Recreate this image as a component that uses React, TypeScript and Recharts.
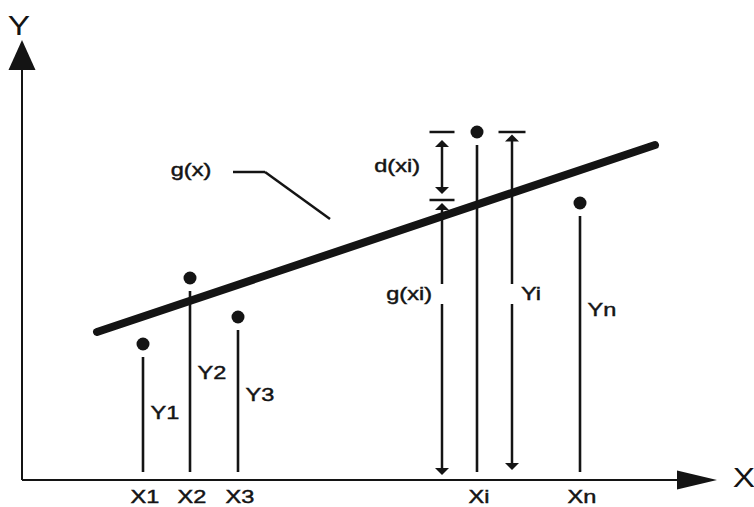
import { ComposedChart, XAxis, YAxis, Scatter, ReferenceLine, ReferenceDot } from "recharts";

// observations (X1, X2, X3, Xi, Xn) in plot units
const pointNames = ["1", "2", "3", "i", "n"];
const pointX = [12.1, 16.8, 21.6, 45.5, 55.8];
const pointY = [13.6, 20.2, 16.3, 34.8, 27.7];
// height of the Y1..Yn captions beside each stem (Yi is drawn on its own)
const stemLabelY = [6.7, 10.7, 8.5, null, 17.0];

// fitted line g(x), read at both ends
const fitX = [7.5, 63.3];
const fitY = [14.8, 33.5];
// value of g at Xi
const gAtXi = 28.0;

const W = 754;
const H = 507;
const INK = "#141414";
const FONT = "'Liberation Sans', Arial, Helvetica, sans-serif";

const X_DOMAIN: [number, number] = [-2.2, 73.2];
const Y_DOMAIN: [number, number] = [-2.7, 48.0];

// where the measurement arrows for d(xi), g(xi) and Yi stand
const MEAS_G_X = 42.0;
const MEAS_Y_X = 49.0;
const LABEL_MID = 18.6;
const LABEL_GAP = 1.0;

const points = pointX.map((x, i) => ({ x, y: pointY[i] }));

type Seg = { x1: number; y1: number; x2: number; y2: number };

function arrow(len: number, half: number, width: number, atStart: boolean, atEnd: boolean) {
  return (p: any) => {
    const { x1, y1, x2, y2 } = p as Seg;
    const L = Math.hypot(x2 - x1, y2 - y1) || 1;
    const ux = (x2 - x1) / L;
    const uy = (y2 - y1) / L;
    const nx = -uy;
    const ny = ux;
    const head = (tx: number, ty: number, dx: number, dy: number) => {
      const bx = tx - dx * len;
      const by = ty - dy * len;
      return `${tx},${ty} ${bx + nx * half},${by + ny * half} ${bx - nx * half},${by - ny * half}`;
    };
    const sx = atStart ? x1 + ux * len * 0.8 : x1;
    const sy = atStart ? y1 + uy * len * 0.8 : y1;
    const ex = atEnd ? x2 - ux * len * 0.8 : x2;
    const ey = atEnd ? y2 - uy * len * 0.8 : y2;
    return (
      <g>
        <line x1={sx} y1={sy} x2={ex} y2={ey} stroke={INK} strokeWidth={width} />
        {atStart && <polygon points={head(x1, y1, -ux, -uy)} fill={INK} />}
        {atEnd && <polygon points={head(x2, y2, ux, uy)} fill={INK} />}
      </g>
    );
  };
}

// the lettering is set wide, so each caption is stretched horizontally
function tag(text: string, size = 19, anchor: "start" | "middle" | "end" = "middle", heavy = true) {
  return (p: any) => (
    <text
      transform={`translate(${p.cx} ${p.cy}) scale(1.24 1)`}
      x={0}
      y={0}
      fill={INK}
      stroke={heavy ? INK : "none"}
      strokeWidth={heavy ? 0.45 : 0}
      fontFamily={FONT}
      fontSize={size}
      textAnchor={anchor}
      dominantBaseline="central"
    >
      {text}
    </text>
  );
}

const seg = (x1: number, y1: number, x2: number, y2: number) => [
  { x: x1, y: y1 },
  { x: x2, y: y2 },
];

const thickLine = (p: any) => (
  <line x1={p.x1} y1={p.y1} x2={p.x2} y2={p.y2} stroke={INK} strokeWidth={8} strokeLinecap="round" />
);

export default function App() {
  const down = arrow(7, 7, 2.5, false, true);
  const both = arrow(7, 7, 2.5, true, true);

  return (
    <div style={{ position: "absolute", left: 0, top: 0, width: W, height: H, background: "#fff" }}>
      <ComposedChart width={W} height={H} margin={{ top: 0, right: 0, bottom: 0, left: 0 }}>
        <XAxis type="number" dataKey="x" domain={X_DOMAIN} allowDataOverflow hide />
        <YAxis type="number" dataKey="y" domain={Y_DOMAIN} allowDataOverflow hide />

        {/* axes with arrow heads */}
        <ReferenceLine segment={seg(0, 0, 69.5, 0)} shape={arrow(40, 9.5, 2, false, true)} />
        <ReferenceLine segment={seg(0, 0, 0, 44.0)} shape={arrow(30, 13.5, 2, false, true)} />
        <ReferenceDot x={-0.3} y={45.5} r={0} shape={tag("Y", 27, "middle", false)} />
        <ReferenceDot x={72.2} y={0.3} r={0} shape={tag("X", 27, "middle", false)} />

        {/* stems from each observation down to the x axis */}
        {pointX.map((x, i) => (
          <ReferenceLine
            key={`stem-${i}`}
            segment={seg(x, pointY[i] - 1.3, x, 0.8)}
            stroke={INK}
            strokeWidth={2.6}
          />
        ))}
        {pointX.map((x, i) => (
          <ReferenceDot key={`xl-${i}`} x={x + 0.2} y={-1.65} r={0} shape={tag(`X${pointNames[i]}`)} />
        ))}
        {stemLabelY.map((ly, i) =>
          ly == null ? null : (
            <ReferenceDot key={`yl-${i}`} x={pointX[i] + 2.2} y={ly} r={0} shape={tag(`Y${pointNames[i]}`)} />
          )
        )}

        {/* fitted line and its callout */}
        <ReferenceLine segment={fitX.map((x, i) => ({ x, y: fitY[i] }))} shape={thickLine} />
        <ReferenceLine segment={seg(21.1, 30.8, 24.3, 30.8)} stroke={INK} strokeWidth={2.5} />
        <ReferenceLine segment={seg(24.3, 30.8, 30.8, 26.1)} stroke={INK} strokeWidth={2.5} />
        <ReferenceDot x={16.9} y={31.0} r={0} shape={tag("g(x)")} />

        {/* d(xi): distance between Yi and g(xi) */}
        <ReferenceLine segment={seg(MEAS_G_X - 1.25, pointY[3], MEAS_G_X + 1.25, pointY[3])} stroke={INK} strokeWidth={2.5} />
        <ReferenceLine segment={seg(MEAS_G_X - 1.25, gAtXi, MEAS_G_X + 1.25, gAtXi)} stroke={INK} strokeWidth={2.5} />
        <ReferenceLine segment={seg(MEAS_G_X, pointY[3] - 0.8, MEAS_G_X, gAtXi + 0.6)} shape={both} />
        <ReferenceDot x={MEAS_G_X - 2.2} y={(pointY[3] + gAtXi) / 2} r={0} shape={tag("d(xi)", 19, "end")} />

        {/* g(xi): from the axis up to the fitted line */}
        <ReferenceLine segment={seg(MEAS_G_X, LABEL_MID + LABEL_GAP, MEAS_G_X, gAtXi - 0.3)} shape={down} />
        <ReferenceLine segment={seg(MEAS_G_X, LABEL_MID - LABEL_GAP, MEAS_G_X, 0.5)} shape={down} />
        <ReferenceDot x={MEAS_G_X - 1.0} y={LABEL_MID} r={0} shape={tag("g(xi)", 19, "end")} />

        {/* Yi: from the axis up to the observation */}
        <ReferenceLine segment={seg(MEAS_Y_X - 1.35, pointY[3], MEAS_Y_X + 1.35, pointY[3])} stroke={INK} strokeWidth={2.5} />
        <ReferenceLine segment={seg(MEAS_Y_X, LABEL_MID + LABEL_GAP, MEAS_Y_X, pointY[3] - 0.25)} shape={down} />
        <ReferenceLine segment={seg(MEAS_Y_X, LABEL_MID - LABEL_GAP, MEAS_Y_X, 1.0)} shape={down} />
        <ReferenceDot x={MEAS_Y_X + 0.9} y={LABEL_MID} r={0} shape={tag("Yi", 19, "start")} />

        <Scatter
          data={points}
          fill={INK}
          isAnimationActive={false}
          shape={(p: any) => <circle cx={p.cx} cy={p.cy} r={6.5} fill={INK} />}
        />
      </ComposedChart>
    </div>
  );
}
